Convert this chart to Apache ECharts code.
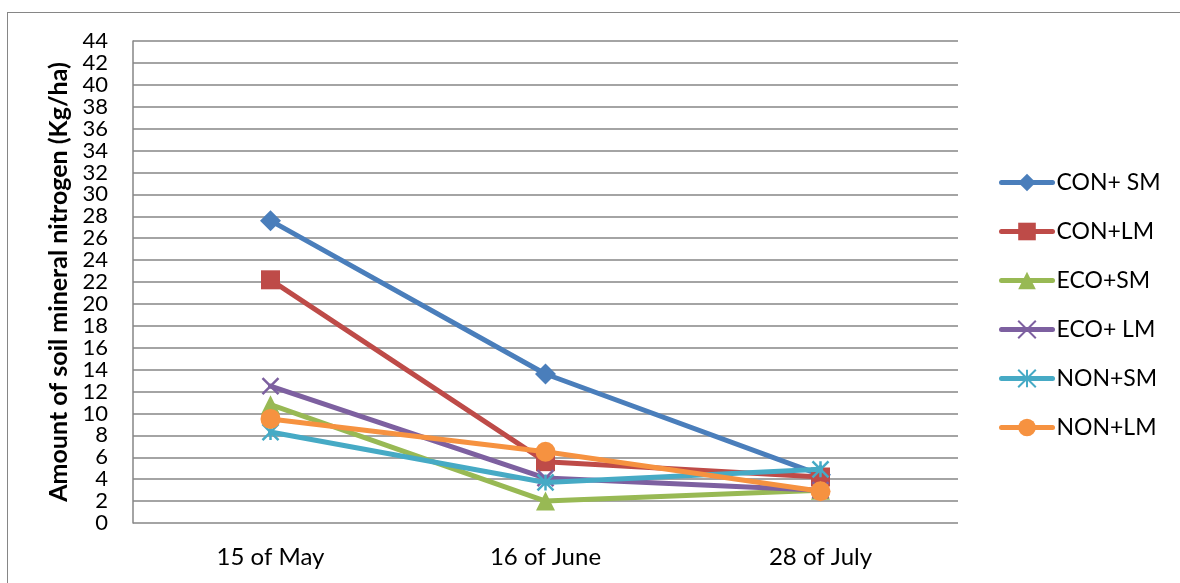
<!DOCTYPE html>
<html>
<head>
<meta charset="utf-8">
<script src="https://cdn.jsdelivr.net/npm/echarts@6/dist/echarts.min.js"></script>
<style>
  html, body { margin: 0; padding: 0; background: #fff; }
  #frame { position: absolute; left: 7px; top: 12px; width: 1180px; height: 600px; border: 1px solid #868686; box-sizing: border-box; }
  #chart { position: absolute; left: 0; top: 0; width: 1180px; height: 583px; }
</style>
</head>
<body>
<div id="frame"></div>
<div id="chart"></div>
<script>
// Sampling dates
const dates = ['15 of May', '16 of June', '28 of July'];

// Soil mineral nitrogen (kg/ha) per treatment
const conSM = [27.6, 13.6, 4.4];
const conLM = [22.2, 5.6, 4.2];
const ecoSM = [10.8, 2.0, 3.0];
const ecoLM = [12.5, 4.1, 3.0];
const nonSM = [8.3, 3.7, 4.9];
const nonLM = [9.5, 6.5, 2.9];

const names = ['CON+ SM', 'CON+LM', 'ECO+SM', 'ECO+ LM', 'NON+SM', 'NON+LM'];
const colors = ['#4A7EBB', '#BE4B48', '#98B954', '#7D60A0', '#46AAC5', '#F69240'];

const crossPath = 'path://M0,0 L10,10 M10,0 L0,10';
const starPath = 'path://M5,0 L5,10 M0,0 L10,10 M10,0 L0,10';

const seriesDefs = [
  { data: conSM, symbol: 'diamond', size: 21, stroke: false },
  { data: conLM, symbol: 'rect', size: 19, stroke: false },
  { data: ecoSM, symbol: 'triangle', size: 19, stroke: false },
  { data: ecoLM, symbol: crossPath, size: 16, stroke: true },
  { data: nonSM, symbol: starPath, size: 16, stroke: true },
  { data: nonLM, symbol: 'circle', size: 20, stroke: false }
];

const font = 'Lato, "Liberation Sans", sans-serif';

const chart = echarts.init(document.getElementById('chart'), null, { renderer: 'canvas' });

chart.setOption({
  animation: false,
  backgroundColor: 'transparent',
  color: colors,
  grid: { left: 133, right: 222, top: 41, bottom: 60 },
  xAxis: {
    type: 'category',
    data: dates,
    boundaryGap: true,
    axisLine: { show: false },
    axisTick: { show: false },
    axisLabel: { color: '#000', fontSize: 24, fontFamily: font, margin: 22 },
    splitLine: { show: false }
  },
  yAxis: {
    type: 'value',
    min: 0,
    max: 44,
    interval: 2,
    name: 'Amount of soil mineral nitrogen (Kg/ha)',
    nameLocation: 'middle',
    nameGap: 58,
    nameTextStyle: { color: '#000', fontSize: 25, fontWeight: 'bold', fontFamily: font },
    axisLine: { show: true, lineStyle: { color: '#868686', width: 1.5 } },
    axisTick: { show: false },
    axisLabel: {
      color: '#000', fontSize: 22, fontFamily: font, margin: 25, lineHeight: 20,
      showMinLabel: true, showMaxLabel: true, hideOverlap: false
    },
    splitLine: { show: true, lineStyle: { color: '#868686', width: 1.5 } }
  },
  legend: {
    orient: 'vertical',
    left: 994,
    top: 166,
    itemWidth: 51,
    itemHeight: 22,
    itemGap: 26,
    lineStyle: { width: 5, cap: 'round' },
    textStyle: { color: '#000', fontSize: 23, fontFamily: font, lineHeight: 22, padding: [0, 0, 0, -1] },
    data: names
  },
  series: seriesDefs.map((s, i) => ({
    name: names[i],
    type: 'line',
    data: s.data,
    symbol: s.symbol,
    symbolSize: s.size,
    showAllSymbol: true,
    lineStyle: { width: 5, color: colors[i], cap: 'round' },
    itemStyle: s.stroke
      ? { color: colors[i], borderColor: colors[i], borderWidth: 2.5 }
      : { color: colors[i], borderWidth: 0 },
    emphasis: { disabled: true },
    z: 2 + i
  }))
});
</script>
</body>
</html>
